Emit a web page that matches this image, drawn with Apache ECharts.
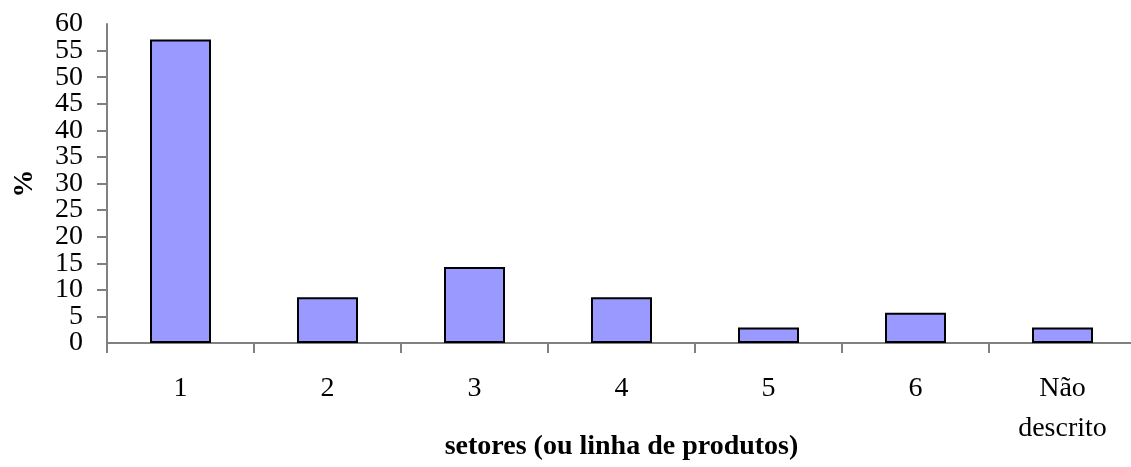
<!DOCTYPE html>
<html>
<head>
<meta charset="utf-8">
<script src="https://cdn.jsdelivr.net/npm/echarts@6/dist/echarts.min.js"></script>
<style>html,body{margin:0;padding:0;background:#fff}#c{width:1131px;height:467px}</style>
</head>
<body>
<div id="c"></div>
<script>
const categories = ['1', '2', '3', '4', '5', '6', 'Não\ndescrito'];
const values = [57.1, 8.6, 14.3, 8.6, 2.9, 5.7, 2.9];
const yTicks = { min: 0, max: 60, interval: 5 };
const xName = 'setores (ou linha de produtos)';
const yName = '%';

const font = '"Liberation Serif", "Times New Roman", serif';
const chart = echarts.init(document.getElementById('c'), null, { renderer: 'canvas' });
const yLabelStyle = { fontFamily: font, fontSize: 28, color: '#000', margin: 24 };
chart.setOption({
  animation: false,
  grid: { left: 107, right: -5, top: 24, bottom: 124, containLabel: false, outerBoundsMode: 'none' },
  xAxis: {
    type: 'category',
    data: categories,
    name: xName,
    nameLocation: 'middle',
    nameGap: 90,
    nameMoveOverlap: false,
    nameTextStyle: { fontFamily: font, fontSize: 28, fontWeight: 'bold', color: '#000' },
    axisLine: { lineStyle: { color: '#808080', width: 2 } },
    axisTick: { show: true, length: 10, lineStyle: { color: '#808080', width: 2 } },
    axisLabel: { fontFamily: font, fontSize: 28, color: '#000', margin: 26, lineHeight: 40, interval: 0 },
    splitLine: { show: false }
  },
  yAxis: [{
    type: 'value',
    min: yTicks.min, max: yTicks.max, interval: yTicks.interval,
    name: yName,
    nameLocation: 'middle',
    nameGap: 68,
    nameRotate: 90,
    nameMoveOverlap: false,
    nameTextStyle: { fontFamily: font, fontSize: 28, fontWeight: 'bold', color: '#000' },
    axisLine: { show: true, lineStyle: { color: '#808080', width: 2 } },
    axisTick: { show: true, length: 10, lineStyle: { color: '#808080', width: 2 } },
    axisLabel: Object.assign({ showMinLabel: false, showMaxLabel: false }, yLabelStyle),
    splitLine: { show: false }
  }, {
    type: 'value',
    position: 'left',
    min: yTicks.min, max: yTicks.max, interval: yTicks.interval,
    axisLine: { show: false },
    axisTick: { show: false },
    axisLabel: Object.assign({
      showMinLabel: true, showMaxLabel: true,
      formatter: v => (v === yTicks.min || v === yTicks.max) ? String(v) : ''
    }, yLabelStyle),
    splitLine: { show: false }
  }],
  series: [{
    type: 'bar',
    data: values,
    barWidth: 61,
    itemStyle: { color: '#9999FF', borderColor: '#000', borderWidth: 2 }
  }]
});
</script>
</body>
</html>
